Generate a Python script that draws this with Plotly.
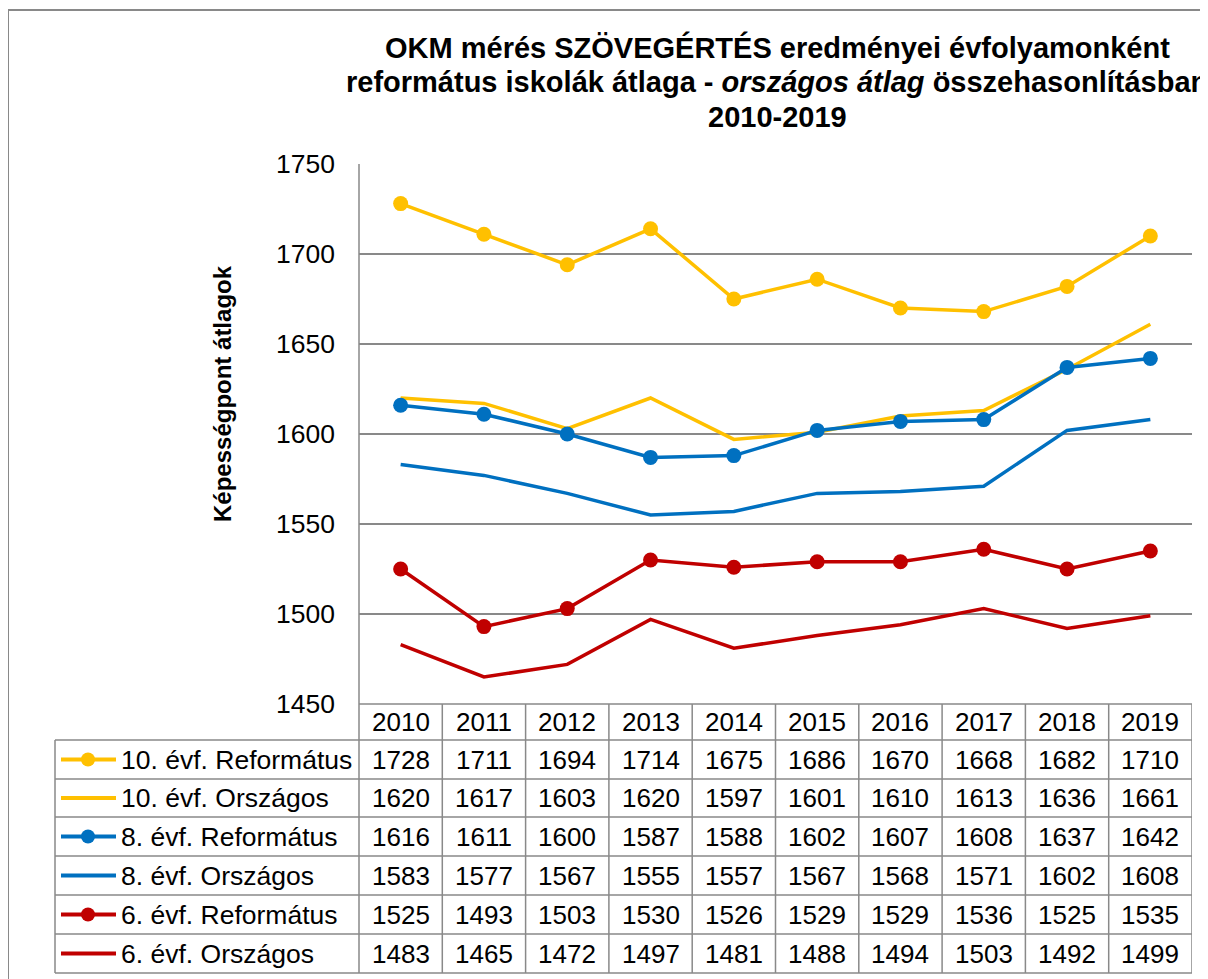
import plotly.graph_objects as go

years = ["2010", "2011", "2012", "2013", "2014", "2015", "2016", "2017", "2018", "2019"]
series_names = ["10. évf. Református", "10. évf. Országos", "8. évf. Református",
                "8. évf. Országos", "6. évf. Református", "6. évf. Országos"]
ref10 = [1728, 1711, 1694, 1714, 1675, 1686, 1670, 1668, 1682, 1710]
orsz10 = [1620, 1617, 1603, 1620, 1597, 1601, 1610, 1613, 1636, 1661]
ref8 = [1616, 1611, 1600, 1587, 1588, 1602, 1607, 1608, 1637, 1642]
orsz8 = [1583, 1577, 1567, 1555, 1557, 1567, 1568, 1571, 1602, 1608]
ref6 = [1525, 1493, 1503, 1530, 1526, 1529, 1529, 1536, 1525, 1535]
orsz6 = [1483, 1465, 1472, 1497, 1481, 1488, 1494, 1503, 1492, 1499]
series_values = [ref10, orsz10, ref8, orsz8, ref6, orsz6]
colors = ["#FFC000", "#FFC000", "#0070C0", "#0070C0", "#C00000", "#C00000"]
has_marker = [True, False, True, False, True, False]
y_ticks = [1450, 1500, 1550, 1600, 1650, 1700, 1750]

W, H = 1208, 979
FONT = "Liberation Sans, Arial, sans-serif"
GRID = "#898989"
OFF = 8  # page body margin compensation


def px(x):
    return (x - OFF) / W


def py(y):
    return 1 - (y - OFF) / H


PL, PR, PT, PB = 359, 1192, 164, 704
row_edges = [704, 740, 779, 817, 856, 895, 934, 973]

fig = go.Figure()
for name, vals, col, mk in zip(series_names, series_values, colors, has_marker):
    fig.add_trace(go.Scatter(
        x=years, y=vals, name=name,
        mode="lines+markers" if mk else "lines",
        line=dict(color=col, width=3.5),
        marker=dict(size=15, color=col),
        showlegend=False,
    ))

shapes = []
annotations = []

# outer border
shapes.append(dict(type="rect", xref="paper", yref="paper",
                   x0=px(8), x1=px(1230), y0=py(1000), y1=py(10),
                   line=dict(color=GRID, width=2), layer="below"))

# table horizontal lines
shapes.append(dict(type="line", xref="paper", yref="paper",
                   x0=px(PL), x1=px(PR), y0=py(704), y1=py(704),
                   line=dict(color=GRID, width=1.5)))
for ry in row_edges[1:]:
    shapes.append(dict(type="line", xref="paper", yref="paper",
                       x0=px(55), x1=px(PR), y0=py(ry), y1=py(ry),
                       line=dict(color=GRID, width=1.5)))
# vertical lines
shapes.append(dict(type="line", xref="paper", yref="paper",
                   x0=px(55), x1=px(55), y0=py(740), y1=py(973),
                   line=dict(color=GRID, width=1.5)))
shapes.append(dict(type="line", xref="paper", yref="paper",
                   x0=px(PL), x1=px(PL), y0=py(PT), y1=py(973),
                   line=dict(color=GRID, width=1.5)))
for i in range(len(years)):
    shapes.append(dict(type="line", xref="x", yref="paper",
                       x0=i + 0.5, x1=i + 0.5, y0=py(704), y1=py(973),
                       line=dict(color=GRID, width=1.5)))

# header row (years)
hc = (row_edges[0] + row_edges[1]) / 2
for i, yr in enumerate(years):
    annotations.append(dict(x=i, y=py(hc), xref="x", yref="paper", text=yr,
                            showarrow=False, font=dict(size=26, color="black", family=FONT),
                            xanchor="center", yanchor="middle"))

# data rows
for r, (name, vals, col, mk) in enumerate(zip(series_names, series_values, colors, has_marker)):
    cy = (row_edges[r + 1] + row_edges[r + 2]) / 2
    for i, v in enumerate(vals):
        annotations.append(dict(x=i, y=py(cy), xref="x", yref="paper", text=str(v),
                                showarrow=False, font=dict(size=26, color="black", family=FONT),
                                xanchor="center", yanchor="middle"))
    annotations.append(dict(x=px(119), y=py(cy), xref="paper", yref="paper", text=name,
                            showarrow=False, font=dict(size=26.5, color="black", family=FONT),
                            xanchor="left", yanchor="middle"))
    shapes.append(dict(type="line", xref="paper", yref="paper",
                       x0=px(61), x1=px(116), y0=py(cy), y1=py(cy),
                       line=dict(color=col, width=4)))
    if mk:
        shapes.append(dict(type="circle", xref="paper", yref="paper",
                           x0=px(88 - 7), x1=px(88 + 7), y0=py(cy + 7), y1=py(cy - 7),
                           fillcolor=col, line=dict(color=col, width=0)))

# title
title_lines = [
    "OKM mérés SZÖVEGÉRTÉS eredményei évfolyamonként",
    "református iskolák átlaga - <i>országos átlag</i> összehasonlításban",
    "2010-2019",
]
for t, ty in zip(title_lines, [47, 82, 117]):
    annotations.append(dict(x=px(777), y=py(ty), xref="paper", yref="paper",
                            text="<b>" + t + "</b>", showarrow=False,
                            font=dict(size=29, color="black", family=FONT),
                            xanchor="center", yanchor="middle"))

# y axis title
annotations.append(dict(x=px(222), y=py(394), xref="paper", yref="paper",
                        text="<b>Képességpont átlagok</b>", textangle=-90, showarrow=False,
                        font=dict(size=24, color="black", family=FONT),
                        xanchor="center", yanchor="middle"))

fig.update_layout(
    width=W, height=H, autosize=False,
    margin=dict(l=0, r=0, t=0, b=0, pad=0, autoexpand=False),
    paper_bgcolor="white", plot_bgcolor="white",
    font=dict(family=FONT, color="black"),
    shapes=shapes, annotations=annotations,
    xaxis=dict(domain=[px(PL), px(PR)], type="category", range=[-0.5, 9.5],
               showticklabels=False, showgrid=False, zeroline=False, showline=False),
    yaxis=dict(domain=[py(PB), py(PT)], range=[1450, 1750], tickvals=y_ticks,
               showgrid=True, gridcolor=GRID, gridwidth=1.5, zeroline=False,
               showline=False, ticks="", ticklabelstandoff=23,
               tickfont=dict(size=26.5, color="black", family=FONT)),
)

fig.write_html("out.html")
